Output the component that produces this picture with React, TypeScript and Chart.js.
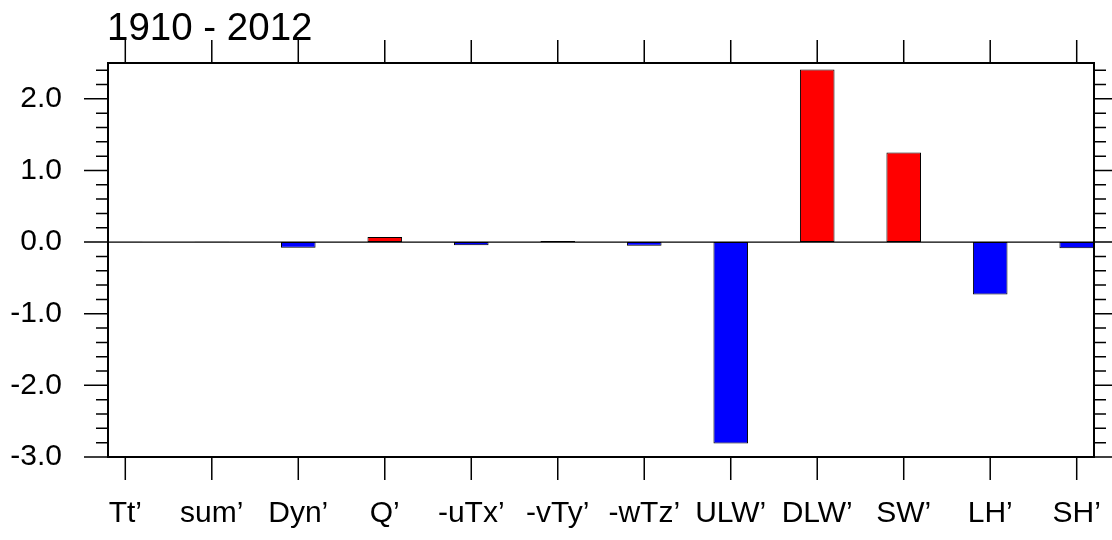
import React, { useEffect, useRef } from "react";
import { Chart, registerables } from "chart.js";

Chart.register(...registerables);

const titleText = "1910 - 2012";
const categories = ["Tt’", "sum’", "Dyn’", "Q’", "-uTx’", "-vTy’", "-wTz’", "ULW’", "DLW’", "SW’", "LH’", "SH’"];
const values = [0.004, 0.004, -0.08, 0.07, -0.045, 0.015, -0.05, -2.81, 2.41, 1.25, -0.73, -0.085];
const yTickValues = [-3, -2, -1, 0, 1, 2];
const positionsX = categories.map((_, i) => i + 1);

const FONT = "'Liberation Sans', Arial, Helvetica, sans-serif";

const decorPlugin = {
  id: "nclDecor",
  afterDatasetsDraw(chart: any) {
    const { ctx, chartArea } = chart;
    const y = chart.scales.y;
    const zy = y.getPixelForValue(0);
    ctx.save();
    ctx.strokeStyle = "#000";
    ctx.lineWidth = 1.2;
    ctx.beginPath();
    ctx.moveTo(chartArea.left, zy);
    ctx.lineTo(chartArea.right, zy);
    ctx.stroke();
    ctx.restore();
  },
  afterDraw(chart: any) {
    const { ctx, chartArea } = chart;
    const x = chart.scales.x;
    const y = chart.scales.y;
    const { left, right, top, bottom } = chartArea;
    ctx.save();
    ctx.strokeStyle = "#000";
    ctx.lineWidth = 1.5;
    for (let i = -15; i <= 12; i++) {
      const v = i / 5;
      const py = y.getPixelForValue(v);
      const len = i % 5 === 0 ? 24 : 12;
      ctx.beginPath();
      ctx.moveTo(left - len, py);
      ctx.lineTo(left, py);
      ctx.moveTo(right, py);
      ctx.lineTo(right + len, py);
      ctx.stroke();
    }
    positionsX.forEach((p) => {
      const px = x.getPixelForValue(p);
      ctx.beginPath();
      ctx.moveTo(px, bottom);
      ctx.lineTo(px, bottom + 23);
      ctx.moveTo(px, top - 23);
      ctx.lineTo(px, top);
      ctx.stroke();
    });
    ctx.lineWidth = 2;
    ctx.strokeRect(left, top, right - left, bottom - top);
    ctx.fillStyle = "#000";
    ctx.font = `38.5px ${FONT}`;
    ctx.textAlign = "left";
    ctx.textBaseline = "alphabetic";
    ctx.fillText(titleText, 107, 40);
    ctx.restore();
  },
};

export default function App() {
  const ref = useRef<HTMLCanvasElement | null>(null);
  useEffect(() => {
    if (!ref.current) return;
    const chart = new Chart(ref.current, {
      type: "bar",
      data: {
        datasets: [
          {
            data: values.map((v, i) => ({ x: positionsX[i], y: v })),
            backgroundColor: values.map((v) => (v >= 0 ? "#ff0000" : "#0000ff")),
            borderColor: "#000000",
            borderWidth: 1,
            borderSkipped: false,
            barPercentage: 0.4,
            categoryPercentage: 1,
          },
        ],
      },
      options: {
        animation: false,
        responsive: false,
        devicePixelRatio: 1,
        layout: { padding: { top: 63, right: 18, left: 0, bottom: 0 } },
        plugins: {
          legend: { display: false },
          tooltip: { enabled: false },
          title: { display: false },
        },
        scales: {
          x: {
            type: "linear",
            offset: false,
            min: 0.8,
            max: 12.2,
            grid: { display: false, drawTicks: false, offset: false },
            border: { display: false },
            afterBuildTicks: (scale: any) => {
              scale.ticks = positionsX.map((v) => ({ value: v }));
            },
            afterFit: (scale: any) => {
              scale.height = 83;
              scale.paddingLeft = 0;
              scale.paddingRight = 0;
            },
            ticks: {
              autoSkip: false,
              maxRotation: 0,
              minRotation: 0,
              padding: 42,
              color: "#000",
              font: { family: FONT, size: 30, lineHeight: 1 },
              callback: (v: any) => categories[Math.round(Number(v)) - 1] ?? "",
            },
          },
          y: {
            type: "linear",
            min: -3,
            max: 2.5,
            grid: { display: false, drawTicks: false },
            border: { display: false },
            afterBuildTicks: (scale: any) => {
              scale.ticks = yTickValues.map((v) => ({ value: v }));
            },
            afterFit: (scale: any) => {
              scale.width = 108;
              scale.paddingTop = 0;
              scale.paddingBottom = 0;
            },
            ticks: {
              padding: 46,
              color: "#000",
              font: { family: FONT, size: 30, lineHeight: 1 },
              callback: (v: any) => Number(v).toFixed(1),
            },
          },
        },
      },
      plugins: [decorPlugin],
    } as any);
    return () => chart.destroy();
  }, []);
  return (
    <div style={{ position: "absolute", left: 0, top: 0, width: 1112, height: 540, background: "#fff" }}>
      <canvas ref={ref} width={1112} height={540} style={{ width: 1112, height: 540, display: "block" }} />
    </div>
  );
}
